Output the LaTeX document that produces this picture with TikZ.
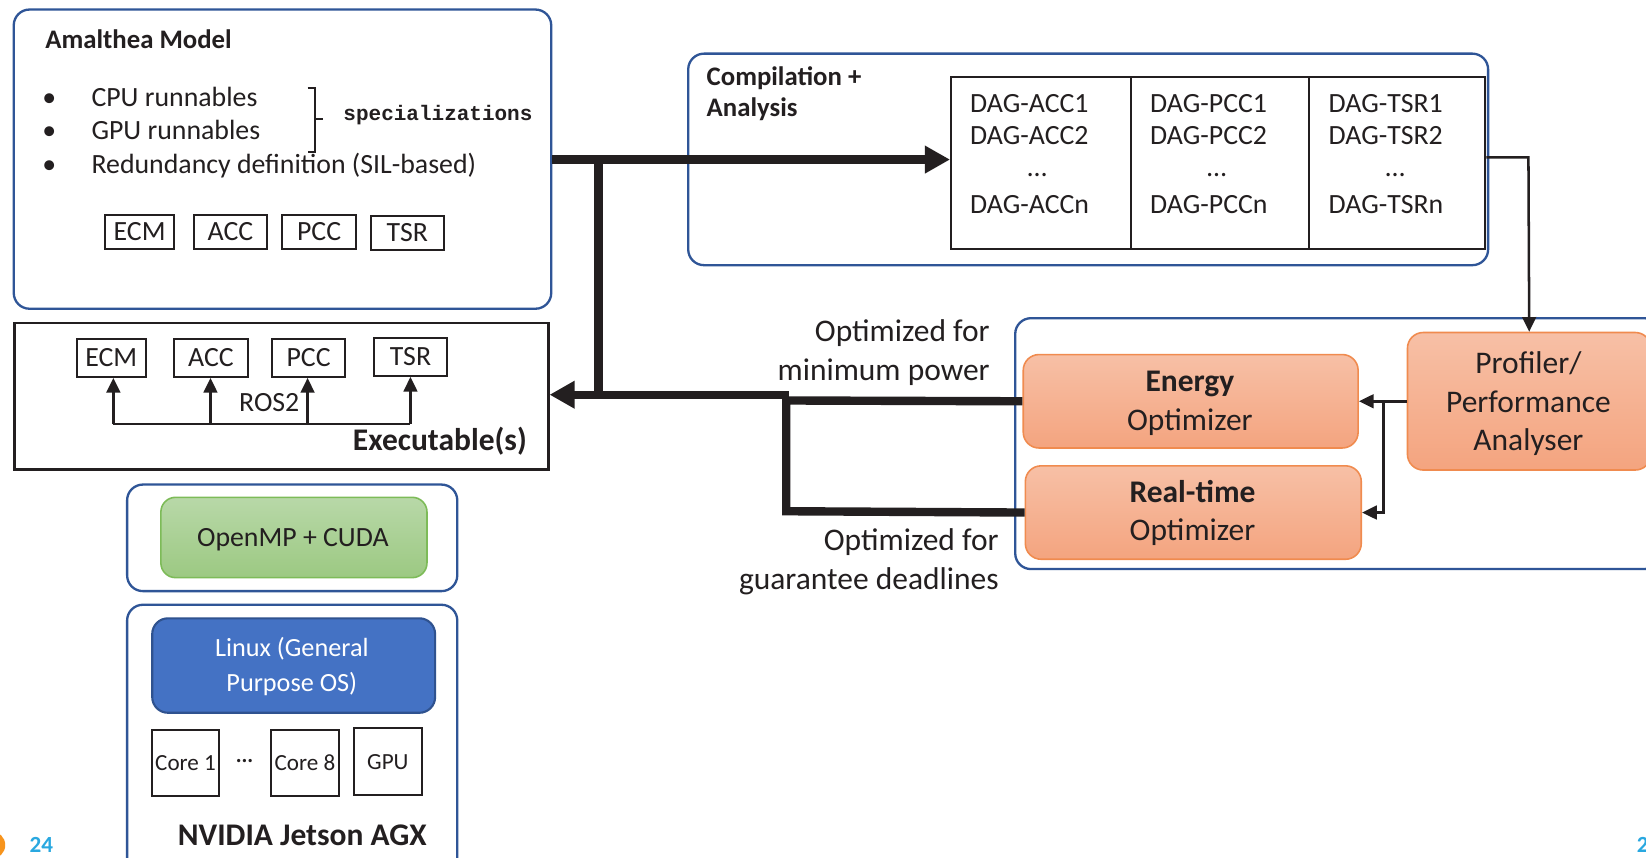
\documentclass[tikz,border=0pt]{standalone}
\usepackage{fontspec}
\setmainfont{Carlito}
\setmonofont{Liberation Mono}
\usetikzlibrary{arrows.meta}
\definecolor{frameblue}{HTML}{2F5597}
\definecolor{ink}{HTML}{231F20}
\definecolor{orline}{HTML}{F08B4F}
\definecolor{ortop}{HTML}{F7C0A6}
\definecolor{orbot}{HTML}{F4A47F}
\definecolor{grtop}{HTML}{B8D8A8}
\definecolor{grbot}{HTML}{9CC982}
\definecolor{grline}{HTML}{7DBB58}
\definecolor{lxfill}{HTML}{4472C4}
\definecolor{lxline}{HTML}{2F528F}
\definecolor{pgblue}{HTML}{29A8E0}
\definecolor{pgorange}{HTML}{F7941D}
\tikzset{
 frame/.style={draw=frameblue, line width=2.2pt, rounded corners=15pt, inner sep=0pt, anchor=north west},
 blk/.style={draw=ink, line width=2pt, inner sep=0pt, anchor=north west, text=ink},
 opt/.style={draw=orline, line width=1.5pt, rounded corners=15pt, inner sep=0pt, anchor=north west, top color=ortop, bottom color=orbot},
 lbl/.style={inner sep=0pt, text=ink},
 fA/.style={font=\fontsize{26.5}{32}\selectfont},
 fB/.style={font=\fontsize{30}{36}\selectfont},
 fC/.style={font=\fontsize{22}{26}\selectfont},
 fL/.style={font=\fontsize{25}{30}\selectfont},
 fbold/.style={font=\fontsize{25.5}{30}\selectfont\bfseries},
 fbig/.style={font=\fontsize{30}{36}\selectfont\bfseries},
 heavy/.style={draw=ink, line width=8pt},
 heavytip/.style={-{Triangle[length=24pt,width=25pt]}},
 slim/.style={draw=ink, line width=2.4pt},
 slimtip/.style={-{Triangle[length=14pt,width=13pt]}},
}
\begin{document}
\begin{tikzpicture}[x=1pt,y=-1pt]
\fill[white] (0,0) rectangle (1568,817);
\useasboundingbox (0,0) rectangle (1568,817);
\begin{scope}
\clip (0,0) rectangle (1568,817);

% ---------------- Amalthea model ----------------
\node[frame, minimum width=512pt, minimum height=285pt] (amal) at (12,8) {};
\node[lbl, fbold, anchor=base west] (amtitle) at (43,46) {Amalthea Model};
\node[lbl, fA, anchor=base] (b1) at (47,101) {\textbullet};
\node[lbl, fA, anchor=base] (b2) at (47,133) {\textbullet};
\node[lbl, fA, anchor=base] (b3) at (47,165) {\textbullet};
\node[lbl, fA, anchor=base west] (cpu) at (87,101) {CPU runnables};
\node[lbl, fA, anchor=base west] (gpur) at (87,133) {GPU runnables};
\node[lbl, fA, anchor=base west] (red) at (87,165) {Redundancy definition (SIL-based)};
\draw[ink, line width=2pt] (293,84) -- (300,84) -- (300,145) -- (293,145);
\draw[ink, line width=2pt] (300,113) -- (308,113);
\node[lbl, anchor=west, font=\fontsize{20}{24}\selectfont\ttfamily\bfseries] (spec) at (327,110) {specializations};
\node[blk, fA, minimum width=66pt, minimum height=32pt] (ecm1) at (99,204) {ECM};
\node[blk, fA, minimum width=69pt, minimum height=32pt] (acc1) at (184,204) {ACC};
\node[blk, fA, minimum width=70pt, minimum height=32pt] (pcc1) at (268,204) {PCC};
\node[blk, fA, minimum width=70pt, minimum height=32pt] (tsr1) at (352,205) {TSR};

% ---------------- Executables ----------------
\node[blk, line width=2.5pt, minimum width=508.5pt, minimum height=139.5pt] (exe) at (12.5,306.5) {};
\node[blk, fA, minimum width=66pt, minimum height=36pt] (ecm2) at (72,322) {ECM};
\node[blk, fA, minimum width=70pt, minimum height=36pt] (acc2) at (165,322) {ACC};
\node[blk, fA, minimum width=70pt, minimum height=36pt] (pcc2) at (258,322) {PCC};
\node[blk, fA, minimum width=70pt, minimum height=36pt] (tsr2) at (355,321) {TSR};
\node[lbl, fA, anchor=base] (ros) at (256.5,392) {ROS2};
\node[lbl, fbig, anchor=base east] (exetitle) at (502,429) {Executable(s)};
\coordinate (ra) at (108,404);
\coordinate (rb) at (200.5,404);
\coordinate (rc) at (293,404);
\coordinate (rd) at (391,404);
\draw[slim] (ra) -- (rd);
\draw[slim, slimtip] (ra) -- (ra |- ecm2.south);
\draw[slim, slimtip] (rb) -- (rb |- acc2.south);
\draw[slim, slimtip] (rc) -- (rc |- pcc2.south);
\draw[slim, slimtip] (rd) -- (rd |- tsr2.south);

% ---------------- Compilation + Analysis ----------------
\node[frame, minimum width=762pt, minimum height=201.5pt] (comp) at (654.5,50) {};
\node[lbl, fbold, anchor=base west] (comp1) at (673,81) {Compilation +};
\node[lbl, fbold, anchor=base west] (comp2) at (673,111) {Analysis};
\node[blk, minimum width=171pt, minimum height=164pt] (dagA) at (905,72) {};
\node[blk, minimum width=170pt, minimum height=164pt] (dagP) at (1076,72) {};
\node[blk, minimum width=168pt, minimum height=164pt] (dagT) at (1246,72) {};
\node[lbl, fA, anchor=base west] (a1) at (924,107.5) {DAG-ACC1};
\node[lbl, fA, anchor=base west] (a2) at (924,137.5) {DAG-ACC2};
\node[lbl, fA, anchor=base] (a3) at (988,168) {…};
\node[lbl, fA, anchor=base west] (an) at (924,203.5) {DAG-ACCn};
\node[lbl, fA, anchor=base west] (p1) at (1095.5,107.5) {DAG-PCC1};
\node[lbl, fA, anchor=base west] (p2) at (1095.5,137.5) {DAG-PCC2};
\node[lbl, fA, anchor=base] (p3) at (1159,168) {…};
\node[lbl, fA, anchor=base west] (pn) at (1095.5,203.5) {DAG-PCCn};
\node[lbl, fA, anchor=base west] (t1) at (1265.5,107.5) {DAG-TSR1};
\node[lbl, fA, anchor=base west] (t2) at (1265.5,137.5) {DAG-TSR2};
\node[lbl, fA, anchor=base] (t3) at (1329,168) {…};
\node[lbl, fA, anchor=base west] (tn) at (1265.5,203.5) {DAG-TSRn};

% ---------------- Optimizers ----------------
\node[frame, minimum width=614pt, minimum height=239pt] (grp) at (966,302) {};
\node[opt, minimum width=319pt, minimum height=89pt] (energy) at (974,337) {};
\node[opt, minimum width=320pt, minimum height=89pt] (rt) at (976,443) {};
\node[opt, minimum width=232pt, minimum height=131pt] (prof) at (1340,316) {};
\node[lbl, fbig, anchor=base] (en1) at (1133.5,373) {Energy};
\node[lbl, fB, anchor=base] (en2) at (1133.5,410) {Optimizer};
\node[lbl, fbig, anchor=base] (rt1) at (1136,479) {Real-time};
\node[lbl, fB, anchor=base] (rt2) at (1136,515) {Optimizer};
\node[lbl, fB, anchor=base] (pr1) at (1456,356) {Profiler/};
\node[lbl, fB, anchor=base] (pr2) at (1456,393) {Performance};
\node[lbl, fB, anchor=base] (pr3) at (1456,429) {Analyser};
\node[lbl, fB, anchor=base east] (o1) at (943,325.5) {Optimized for};
\node[lbl, fB, anchor=base east] (o2) at (943,362) {minimum power};
\node[lbl, fB, anchor=base east] (o3) at (951.5,524) {Optimized for};
\node[lbl, fB, anchor=base east] (o4) at (951.5,562) {guarantee deadlines};

% ---------------- Platform ----------------
\node[frame, minimum width=314.5pt, minimum height=101.5pt] (ompbox) at (120,460.5) {};
\node[draw=grline, line width=1.5pt, rounded corners=14pt, inner sep=0pt, anchor=north west,
      top color=grtop, bottom color=grbot, minimum width=253.5pt, minimum height=76.5pt] (omp) at (152.5,473) {};
\node[lbl, fA, anchor=base] (omptext) at (279,521) {OpenMP + CUDA};
\node[frame, minimum width=314.5pt, minimum height=300pt] (jet) at (120,575) {};
\node[draw=lxline, line width=2pt, fill=lxfill, rounded corners=15pt, inner sep=0pt, anchor=north west,
      minimum width=269.5pt, minimum height=90pt] (linux) at (144,588) {};
\node[inner sep=0pt, text=white, fL, anchor=base] (lx1) at (278,625.5) {Linux (General};
\node[inner sep=0pt, text=white, fL, anchor=base] (lx2) at (278,659) {Purpose OS)};
\node[blk, fC, minimum width=64.5pt, minimum height=63.5pt] (core1) at (143.5,694) {Core 1};
\node[blk, fC, minimum width=65pt, minimum height=63.5pt] (core8) at (257,694) {Core 8};
\node[blk, fC, minimum width=65pt, minimum height=64pt] (gpu) at (336,692.5) {GPU};
\node[lbl, fC] (cdots) at (233,727) {···};
\node[lbl, fbig, anchor=base] (jettitle) at (288,805) {NVIDIA Jetson AGX};

% ---------------- slide decorations ----------------
\fill[pgorange] (-8,805) circle (13);
\node[inner sep=0pt, text=pgblue, font=\fontsize{22}{26}\selectfont\bfseries, anchor=base west] (pg) at (28,812.5) {24};
\node[inner sep=0pt, text=pgblue, font=\fontsize{22}{26}\selectfont\bfseries, anchor=base west] (pg2) at (1559,812.5) {2};

% ---------------- connectors ----------------
\coordinate (ja) at (570,152);
\coordinate (jb) at (570,376);
\coordinate (jc) at (752,376);
\coordinate (jd) at (749,381.5);
\coordinate (je) at (749,487);
\draw[heavy, heavytip] (amal.east |- ja) -- (dagA.west |- ja);
\draw[heavy, line cap=rect] (ja) -- (jb);
\draw[heavy, heavytip] (jc) -- (exe.east |- jc);
\draw[heavy] (energy.west) -- (jd) -- (je) -- (rt.west);

\coordinate (ta) at (1456,150);
\draw[slim, slimtip] (dagT.east |- ta) -- (ta) -- (prof.north);
\coordinate (ka) at (1318,381.5);
\draw[slim, slimtip] (prof.west) -- (energy.east);
\draw[slim, slimtip] (ka) -- (ka |- rt.east) -- (rt.east);
\end{scope}
\end{tikzpicture}
\end{document}
